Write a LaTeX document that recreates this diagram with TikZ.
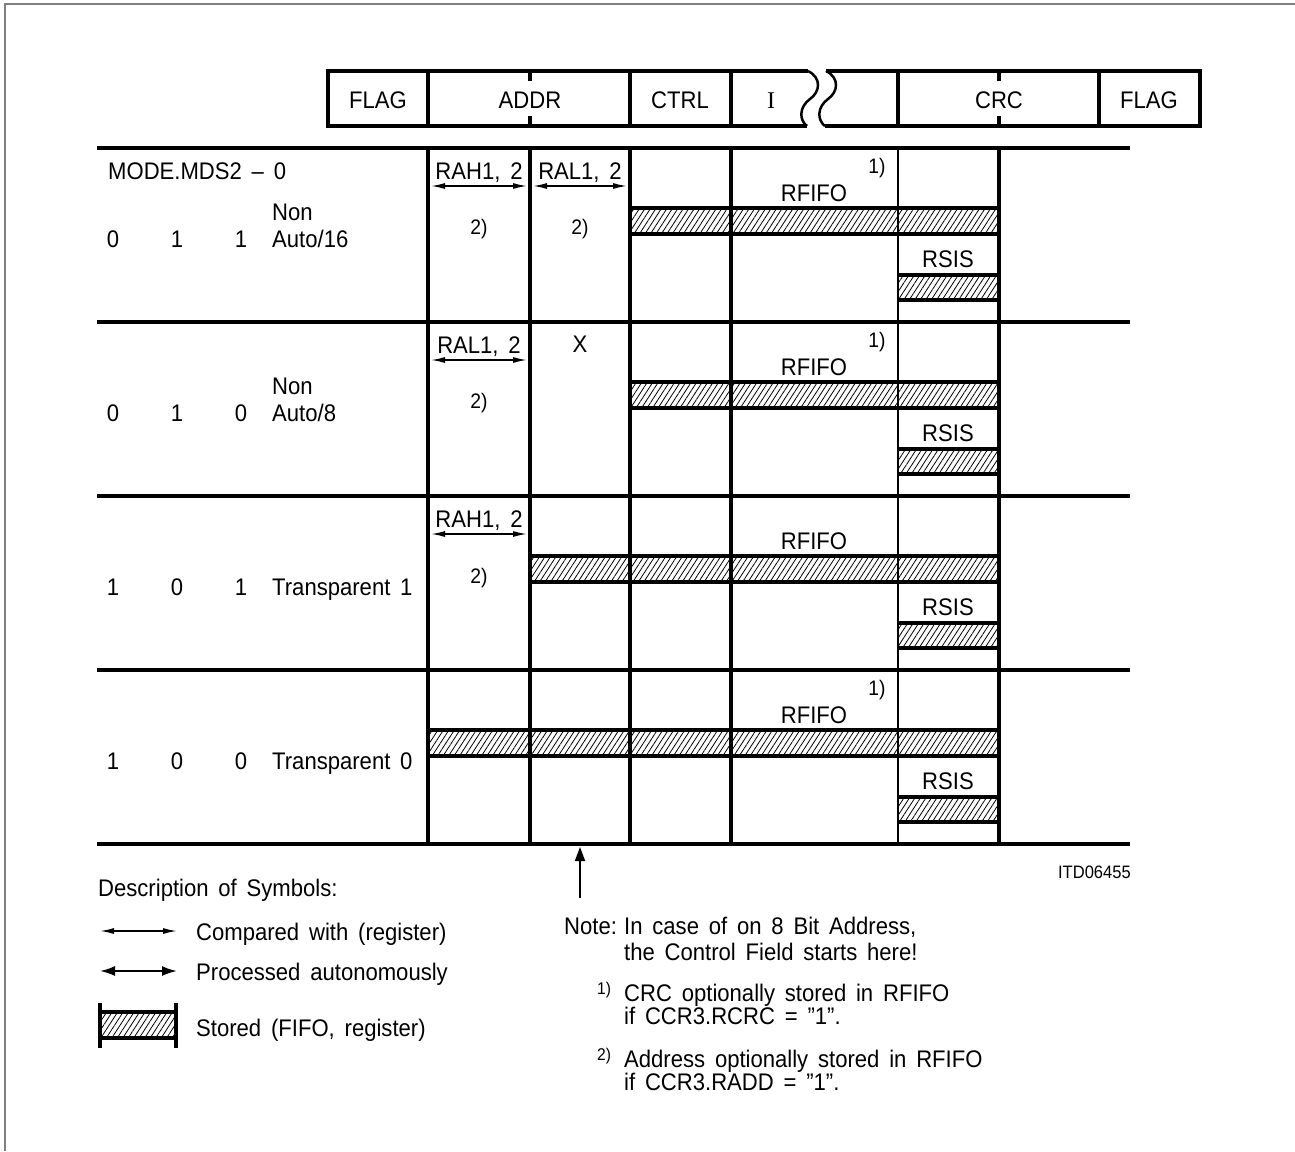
\documentclass[tikz,border=0pt]{standalone}
\usepackage{fontspec}
\setmainfont{Liberation Sans}[FakeStretch=0.92, WordSpace=1.6]
\newfontfamily\romanfont{Liberation Serif}
\usetikzlibrary{arrows.meta,patterns.meta}

\tikzset{
  bold line/.style={line width=3.5pt},
  thin col/.style={line width=1.8pt},
  lbl/.style={anchor=base, inner sep=0pt, font=\fontsize{24}{28}\selectfont},
  lblw/.style={lbl, anchor=base west},
  note/.style={lbl, font=\fontsize{21}{25}\selectfont},
  hatch/.style={pattern={Lines[angle=57,distance=4.6pt,line width=0.8pt]}},
  cmp/.style={{Latex[length=14pt,width=6pt]}-{Latex[length=14pt,width=6pt]}, line width=1.5pt},
  proc/.style={{Latex[length=15pt,width=10pt]}-{Latex[length=15pt,width=10pt]}, line width=2pt},
}

% hatched store bar: x1 x2 ytop ybottom
\newcommand{\storebar}[4]{%
  \fill[hatch] (#1,#3) rectangle (#2,#4);
  \draw[bold line] (#1,#3) -- (#2,#3) (#1,#4) -- (#2,#4);
}

\begin{document}
\begin{tikzpicture}[x=1pt,y=-1pt]
  \useasboundingbox (0,0) rectangle (1295,1151);
  \draw[gray, line width=2pt] (5,1151) -- (5,4) -- (1295,4);

  % Frame format
  \draw[bold line] (808,71) -- (328,71) -- (328,126) -- (807,126);
  \draw[bold line] (825,126) -- (1200,126) -- (1200,71) -- (826,71);
  \draw[line width=2.5pt] (808,71) .. controls (822,78) and (820,92) .. (810,99)
    .. controls (799,107) and (799,120) .. (807,126);
  \draw[line width=2.5pt] (826,71) .. controls (840,78) and (838,92) .. (828,99)
    .. controls (817,107) and (817,120) .. (825,126);
  \foreach \x in {428,630,731,898,1099}
    \draw[bold line] (\x,71) -- (\x,126);
  \foreach \x in {530,999}
    \draw[bold line] (\x,71) -- (\x,81) (\x,116) -- (\x,126);
  \foreach \x/\t [count=\i] in {378/FLAG,530/ADDR,680/CTRL,999/CRC,1149/FLAG}
    \node[lbl] (hd\i) at (\x,108) {\t};
  \node[lbl] (hdI) at (771,108) {\romanfont I};

  % Stored bars, RFIFO and RSIS
  \foreach \r/\xs in {0/630,1/630,2/530,3/428} {
    \pgfmathsetmacro\dy{174*\r}
    \storebar{\xs}{999}{208+\dy}{234+\dy}
    \storebar{898}{999}{275+\dy}{300+\dy}
    \node[lbl] (rfifo\r) at (814,201+\dy) {RFIFO};
    \node[lbl] (rsis\r) at (948,267+\dy) {RSIS};
  }
  \foreach \r in {0,1,3}
    \node[note] (crc\r) at (877,173+174*\r) {1)};

  % Table grid
  \foreach \x in {428,530,630,731,999}
    \draw[bold line] (\x,148) -- (\x,844);
  \draw[thin col] (898,148) -- (898,844);
  \foreach \y in {148,322,496,670,844}
    \draw[bold line] (97,\y) -- (1130,\y);

  % Modes
  \node[lblw] (mds) at (108,179) {MODE.MDS2 -- 0};
  \foreach \r/\a/\b/\c in {0/0/1/1,1/0/1/0,2/1/0/1,3/1/0/0} {
    \pgfmathsetmacro\dy{174*\r}
    \node[lbl] (mda\r) at (113,247+\dy) {\a};
    \node[lbl] (mdb\r) at (177,247+\dy) {\b};
    \node[lbl] (mdc\r) at (241,247+\dy) {\c};
  }
  \node[lblw] (non0) at (272,220) {Non};
  \node[lblw] (auto0) at (272,247) {Auto/16};
  \node[lblw] (non1) at (272,394) {Non};
  \node[lblw] (auto1) at (272,421) {Auto/8};
  \node[lblw] (trans2) at (272,595) {Transparent 1};
  \node[lblw] (trans3) at (272,769) {Transparent 0};

  % Address registers
  \node[lbl] (rah0) at (479,179) {RAH1, 2};
  \node[lbl] (ral0) at (580,179) {RAL1, 2};
  \node[lbl] (ral1) at (479,353) {RAL1, 2};
  \node[lbl] (xx1) at (580,352) {X};
  \node[lbl] (rah2) at (479,527) {RAH1, 2};
  \node[note] (adr0a) at (479,234) {2)};
  \node[note] (adr0b) at (580,234) {2)};
  \node[note] (adr1) at (479,408) {2)};
  \node[note] (adr2) at (479,583) {2)};
  \coordinate (c0a) at (431,186); \coordinate (c0b) at (527,186);
  \coordinate (c0c) at (533,186); \coordinate (c0d) at (627,186);
  \coordinate (c1a) at (431,360); \coordinate (c1b) at (527,360);
  \coordinate (c2a) at (431,534); \coordinate (c2b) at (527,534);
  \draw[cmp] (c0a) -- (c0b);
  \draw[cmp] (c0c) -- (c0d);
  \draw[cmp] (c1a) -- (c1b);
  \draw[cmp] (c2a) -- (c2b);

  % Control field pointer
  \coordinate (cfs) at (580,898);
  \coordinate (cfe) at (580,847);
  \draw[line width=1.8pt, -{Triangle[length=14pt,width=10pt]}] (cfs) -- (cfe);
  \node[lbl, anchor=base east, font=\fontsize{18}{22}\selectfont] (itd) at (1131,878) {ITD06455};

  % Description of symbols
  \node[lblw] (desc) at (98,896) {Description of Symbols:};
  \coordinate (s1a) at (100,931); \coordinate (s1b) at (177,931);
  \coordinate (s2a) at (100,971); \coordinate (s2b) at (177,971);
  \draw[cmp] (s1a) -- (s1b);
  \draw[proc] (s2a) -- (s2b);
  \draw[bold line] (100,1003) -- (100,1048) (176,1003) -- (176,1048);
  \storebar{100}{176}{1012}{1038}
  \node[lblw] (cmptxt) at (196,940) {Compared with (register)};
  \node[lblw] (proctxt) at (196,980) {Processed autonomously};
  \node[lblw] (stortxt) at (196,1036) {Stored (FIFO, register)};

  % Notes
  \node[lblw] (notehd) at (564,934) {Note:};
  \node[lblw] (note1) at (624,934) {In case of on 8 Bit Address,};
  \node[lblw] (note2) at (624,960) {the Control Field starts here!};
  \node[note, anchor=base west, font=\fontsize{17}{20}\selectfont] (fn1) at (597,994) {1)};
  \node[lblw] (fn1a) at (624,1001) {CRC optionally stored in RFIFO};
  \node[lblw] (fn1b) at (624,1024) {if CCR3.RCRC = ”1”.};
  \node[note, anchor=base west, font=\fontsize{17}{20}\selectfont] (fn2) at (597,1060) {2)};
  \node[lblw] (fn2a) at (624,1067) {Address optionally stored in RFIFO};
  \node[lblw] (fn2b) at (624,1090) {if CCR3.RADD = ”1”.};
\end{tikzpicture}
\end{document}
